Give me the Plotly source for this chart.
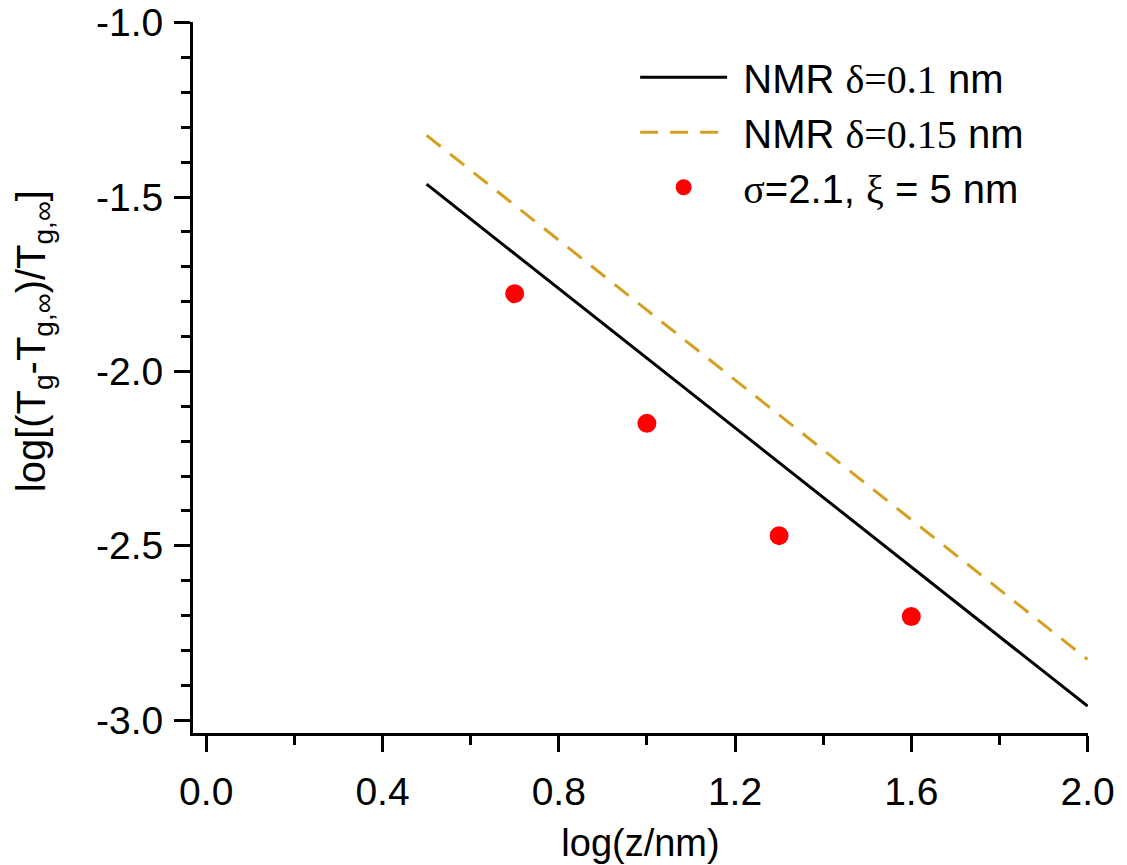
import plotly.graph_objects as go

# Data
line_x = [0.5, 2.0]
nmr_01_y = [-1.463, -2.96]
nmr_015_y = [-1.323, -2.826]
sim_x = [0.7, 1.0, 1.3, 1.6]
sim_y = [-1.777, -2.149, -2.471, -2.703]

x_ticks = [0.0, 0.4, 0.8, 1.2, 1.6, 2.0]
x_ticklabels = ["0.0", "0.4", "0.8", "1.2", "1.6", "2.0"]
y_ticks = [-3.0, -2.5, -2.0, -1.5, -1.0]
y_ticklabels = ["-3.0", "-2.5", "-2.0", "-1.5", "-1.0"]

serif = "font-family:'Liberation Serif','Times New Roman',serif"

fig = go.Figure()
fig.add_trace(go.Scatter(
    x=line_x, y=nmr_01_y, mode="lines",
    line=dict(color="black", width=3),
    name=f"&nbsp;NMR <span style=\"{serif}\">δ=0.1</span> nm",
))
fig.add_trace(go.Scatter(
    x=line_x, y=nmr_015_y, mode="lines",
    line=dict(color="#D4A020", width=3, dash="18px,12px"),
    name=f"&nbsp;NMR <span style=\"{serif}\">δ=0.15</span> nm",
))
fig.add_trace(go.Scatter(
    x=sim_x, y=sim_y, mode="markers",
    marker=dict(color="#FF0000", size=19),
    name=f"&nbsp;<span style=\"{serif}\">σ</span>=2.1, <span style=\"{serif}\">ξ</span> = 5 nm",
))

axis_common = dict(
    showgrid=False, zeroline=False, automargin=False,
    showline=True, linecolor="black", linewidth=3,
    ticks="outside", tickwidth=3, tickcolor="black", ticklen=16,
    tickfont=dict(size=39, color="black"),
    ticklabeloverflow="allow",
)

fig.update_layout(
    width=1119, height=857,
    paper_bgcolor="white", plot_bgcolor="white",
    font=dict(family="Liberation Sans, Arial, sans-serif", color="black"),
    margin=dict(l=185, r=39, t=14, b=132),
    xaxis=dict(
        range=[-0.03, 2.001],
        tickvals=x_ticks, ticktext=x_ticklabels,
        minor=dict(dtick=0.2, tick0=0, ticks="outside", ticklen=9, tickwidth=3, tickcolor="black"),
        title=dict(text="log(z/nm)", font=dict(size=38), standoff=18),
        ticklabelstandoff=6,
        **axis_common,
    ),
    yaxis=dict(
        range=[-3.037, -0.998],
        tickvals=y_ticks, ticktext=y_ticklabels,
        minor=dict(dtick=0.1, tick0=-3.0, ticks="outside", ticklen=9, tickwidth=3, tickcolor="black"),
        ticklabelstandoff=3,
        **axis_common,
    ),
    annotations=[dict(
        text="log[(T<sub>g</sub>-T<sub>g,∞</sub>)/T<sub>g,∞</sub>]",
        textangle=-90, xref="paper", yref="paper",
        x=0, y=0.551, xanchor="center", yanchor="middle",
        xshift=-159, showarrow=False,
        font=dict(size=40, color="black"),
    )],
    legend=dict(
        x=0.494, y=0.968, xanchor="left", yanchor="top",
        font=dict(size=40, color="black"),
        bgcolor="rgba(0,0,0,0)",
        itemwidth=87,
        tracegroupgap=0,
    ),
    showlegend=True,
)

fig.write_html("out.html")
